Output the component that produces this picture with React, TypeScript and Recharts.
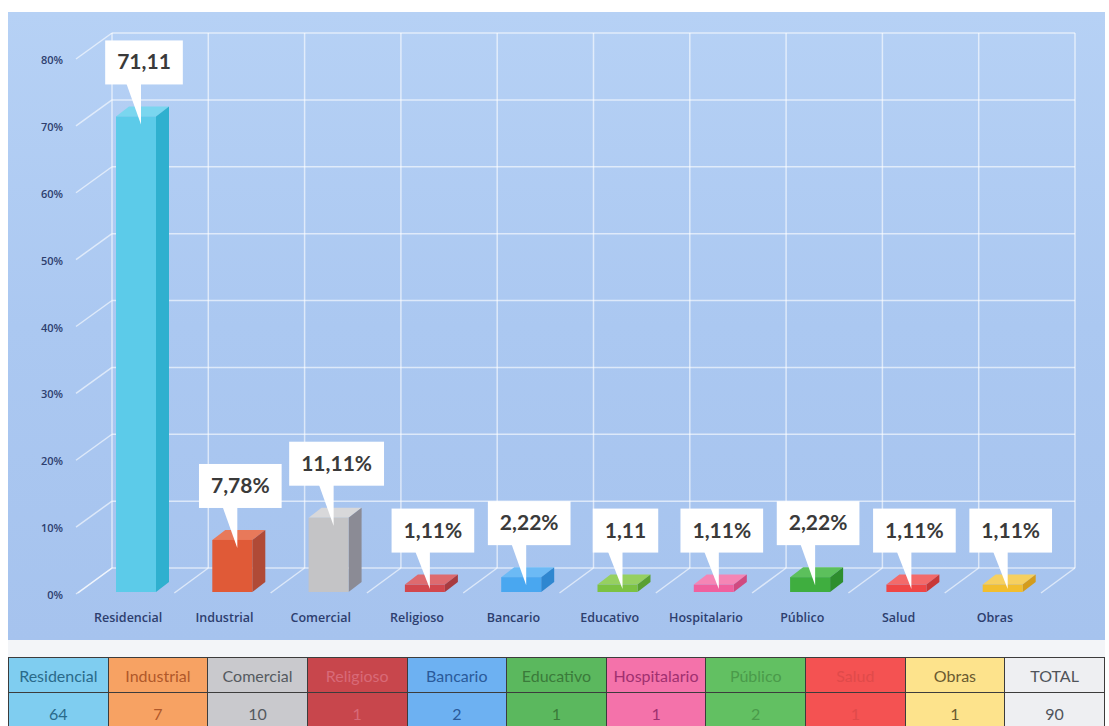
import React from 'react';
import { BarChart, Bar, XAxis, YAxis, CartesianGrid, LabelList, LineChart, Line } from 'recharts';

// ---------- data ----------
const categories = ['Residencial', 'Industrial', 'Comercial', 'Religioso', 'Bancario', 'Educativo', 'Hospitalario', 'Público', 'Salud', 'Obras'];
const percentages = [71.11, 7.78, 11.11, 1.11, 2.22, 1.11, 1.11, 2.22, 1.11, 1.11];
const labelTexts = ['71,11', '7,78%', '11,11%', '1,11%', '2,22%', '1,11', '1,11%', '2,22%', '1,11%', '1,11%'];
const yTicks = [0, 10, 20, 30, 40, 50, 60, 70, 80];
const tableHeaders = ['Residencial', 'Industrial', 'Comercial', 'Religioso', 'Bancario', 'Educativo', 'Hospitalario', 'Público', 'Salud', 'Obras', 'TOTAL'];
const tableCounts = [64, 7, 10, 1, 2, 1, 1, 2, 1, 1, 90];
const boundaryTicks = [0, 1, 2, 3, 4, 5, 6, 7, 8, 9, 10];

// ---------- styles ----------
const faceColors = ['#5ccbe9', '#e05a37', '#c4c4c6', '#d2474d', '#49a7f0', '#7cc242', '#f0609e', '#3fae3f', '#ef4646', '#f2be2e'];
const sideColors = ['#2fb0cf', '#b04a36', '#8b8b95', '#a83b40', '#2f87d0', '#5aa032', '#d04a80', '#2e8e2e', '#c83838', '#d49c1c'];
const topColors = ['#7ad6ef', '#e8795a', '#d8d8da', '#de6a6e', '#6cbaf5', '#96d060', '#f585b5', '#5cc05c', '#f36a6a', '#f6d060'];
const tableBg = ['#7fcdf0', '#f7a263', '#c9c9cd', '#c8464c', '#6db1f2', '#5bb85e', '#f472aa', '#62c062', '#f45252', '#fde38c', '#eeeff2'];
const tableText = ['#2a6a8a', '#b0582a', '#555a60', '#d86a78', '#2a5a9a', '#3a7a3a', '#a03070', '#4a9a4a', '#e04a4a', '#6a5a30', '#50545a'];

const data = categories.map((name, i) => ({ name, value: percentages[i], label: labelTexts[i] }));
const backData = categories.map((name, i) => ({ pos: i + 0.5, value: percentages[i] }));

const W = 1097;
const H = 628;
const MARGIN = { top: 45, right: 62, bottom: 18, left: 32 };
const DX = 13;
const DY = 10;
const AXIS_COLOR = '#2d3e6e';
const GRID = 'rgba(255,255,255,0.6)';
const LABEL_FONT = '700 21px Lato';

let ctx: CanvasRenderingContext2D | null = null;
function textWidth(t: string, font: string): number {
  if (typeof document !== 'undefined') {
    if (!ctx) ctx = document.createElement('canvas').getContext('2d');
    if (ctx) {
      ctx.font = font;
      return ctx.measureText(t).width;
    }
  }
  return t.length * 11;
}

const Bar3D = (p: any) => {
  const { x, y, width, height, index } = p;
  if (x == null || y == null || !height) return null;
  const fx = x + 8;
  const w = width;
  const h = height;
  return (
    <g>
      <polygon points={`${fx},${y} ${fx + DX},${y - DY} ${fx + w + DX},${y - DY} ${fx + w},${y}`} fill={topColors[index]} />
      <polygon points={`${fx + w},${y} ${fx + w + DX},${y - DY} ${fx + w + DX},${y + h - DY} ${fx + w},${y + h}`} fill={sideColors[index]} />
      <rect x={fx} y={y} width={w} height={h} fill={faceColors[index]} />
    </g>
  );
};

const Callout = (p: any) => {
  const vb = p.viewBox || {};
  const x = vb.x ?? p.x;
  const y = vb.y ?? p.y;
  const width = vb.width ?? p.width;
  const height = vb.height ?? p.height;
  if (x == null || y == null) return null;
  const text = String(p.value);
  const fc = x + width / 2 + 8;
  const tw = textWidth(text, LABEL_FONT);
  const bw = tw + 24;
  const bh = 44;
  const cx = fc + 8;
  const bottom = y - 32;
  const top = bottom - bh;
  const tipY = y + Math.min(8, Math.abs(height) * 0.6);
  return (
    <g>
      <polygon points={`${cx - 18},${bottom - 2} ${cx - 3},${bottom - 2} ${fc + 5},${tipY}`} fill="#ffffff" />
      <rect x={cx - bw / 2} y={top} width={bw} height={bh} fill="#ffffff" />
      <text x={cx} y={top + bh / 2 + 7} textAnchor="middle" fontFamily="Lato" fontWeight={700} fontSize={21} fill="#3a3a3a">
        {text}
      </text>
    </g>
  );
};

const XTick = (p: any) => {
  const { x, y, payload } = p;
  return (
    <text x={x} y={y + 30} textAnchor="middle" fontFamily="Open Sans" fontWeight={600} fontSize={12.5} fill={AXIS_COLOR}>
      {payload.value}
    </text>
  );
};

const YTick = (p: any) => {
  const { x, y, payload } = p;
  return (
    <text x={x} y={y + 7} textAnchor="end" fontFamily="Open Sans" fontWeight={600} fontSize={11} fill={AXIS_COLOR}>
      {`${payload.value}%`}
    </text>
  );
};

const WallTick = (p: any) => {
  const { x, y } = p;
  return <line x1={x} y1={y} x2={x - 36} y2={y + 26} stroke={GRID} strokeWidth={1.5} />;
};

const FloorTick = (p: any) => {
  const { x, y } = p;
  return <line x1={x} y1={y} x2={x - 34} y2={y + 25} stroke={GRID} strokeWidth={1.5} />;
};

export default function App() {
  return (
    <div style={{ position: 'relative', width: 1109, height: 726, overflow: 'hidden', background: '#ffffff' }}>
      <style>{'html,body{margin:0;padding:0;overflow:hidden;}'}</style>
      <div
        style={{
          position: 'absolute',
          left: 8,
          top: 12,
          width: W,
          height: H,
          overflow: 'hidden',
          background: 'linear-gradient(180deg, #b6d1f5 0%, #abc8f1 50%, #a6c3ee 100%)',
        }}
      >
        <div style={{ position: 'absolute', left: 32, top: -24 }}>
          <LineChart width={W} height={H} data={backData} margin={MARGIN}>
            <CartesianGrid stroke={GRID} strokeWidth={1.5} />
            <XAxis
              type="number"
              dataKey="pos"
              domain={[0, 10]}
              ticks={boundaryTicks}
              interval={0}
              height={30}
              tickSize={0}
              tickMargin={0}
              axisLine={false}
              tickLine={false}
              tick={FloorTick}
            />
            <YAxis
              type="number"
              domain={[0, 80]}
              ticks={yTicks}
              interval={0}
              width={40}
              tickSize={0}
              tickMargin={0}
              axisLine={false}
              tickLine={false}
              tick={WallTick}
            />
            <Line dataKey="value" stroke="none" dot={false} isAnimationActive={false} />
          </LineChart>
        </div>
        <div style={{ position: 'absolute', left: 0, top: 0 }}>
          <BarChart width={W} height={H} data={data} margin={MARGIN}>
            <XAxis
              dataKey="name"
              interval={0}
              height={30}
              tickSize={0}
              tickMargin={0}
              axisLine={false}
              tickLine={false}
              tick={XTick}
            />
            <YAxis
              type="number"
              domain={[0, 80]}
              ticks={yTicks}
              interval={0}
              width={40}
              tickSize={0}
              tickMargin={17}
              axisLine={false}
              tickLine={false}
              tick={YTick}
            />
            <Bar dataKey="value" barSize={40} shape={Bar3D} isAnimationActive={false}>
              <LabelList dataKey="label" content={Callout} />
            </Bar>
          </BarChart>
        </div>
      </div>
      <div style={{ position: 'absolute', left: 8, top: 640, width: W, height: 17, background: '#f3f5f8' }} />
      <table
        style={{
          position: 'absolute',
          left: 8,
          top: 657,
          width: W,
          borderCollapse: 'collapse',
          tableLayout: 'fixed',
          fontFamily: 'Lato',
          fontSize: 16,
        }}
      >
        <tbody>
          <tr style={{ height: 35 }}>
            {tableHeaders.map((h, i) => (
              <td
                key={h}
                style={{
                  background: tableBg[i],
                  color: tableText[i],
                  border: '1.5px solid #3c3c3c',
                  textAlign: 'center',
                  padding: 0,
                }}
              >
                {h}
              </td>
            ))}
          </tr>
          <tr style={{ height: 42 }}>
            {tableCounts.map((c, i) => (
              <td
                key={i}
                style={{
                  background: tableBg[i],
                  color: tableText[i],
                  border: '1.5px solid #3c3c3c',
                  textAlign: 'center',
                  padding: 0,
                }}
              >
                {c}
              </td>
            ))}
          </tr>
        </tbody>
      </table>
    </div>
  );
}
